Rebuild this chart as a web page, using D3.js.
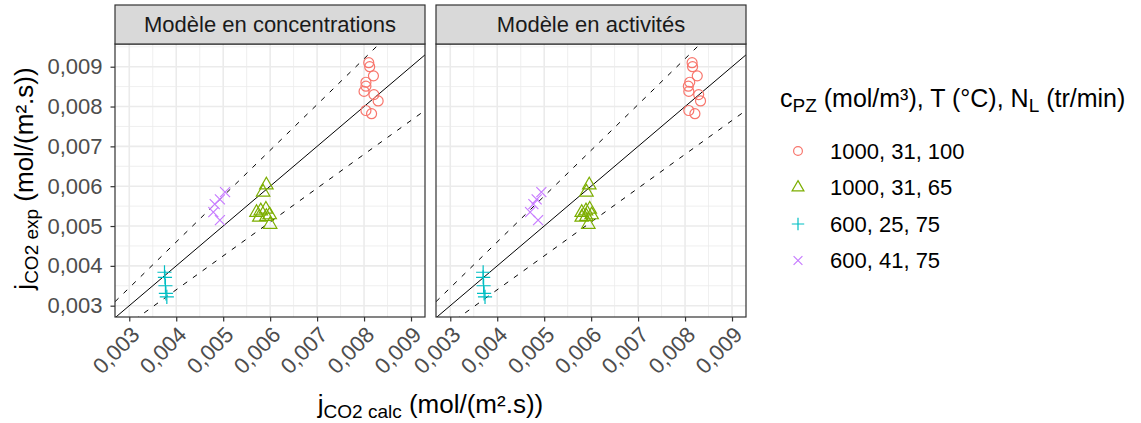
<!DOCTYPE html>
<html>
<head>
<meta charset="utf-8">
<script src="https://cdn.jsdelivr.net/npm/d3@7"></script>
<style>
body { margin: 0; background: #fff; }
text { font-family: "Liberation Sans", Arial, sans-serif; }
</style>
</head>
<body>
<svg id="main"></svg>
<script>
// facettes et groupes
var panels = ["Modèle en concentrations", "Modèle en activités"];
var groups = ["1000, 31, 100", "1000, 31, 65", "600, 25, 75", "600, 41, 75"];
var shapes = ["circle", "triangle", "plus", "cross"];
var colors = ["#F8766D", "#7CAE00", "#00BFC4", "#C77CFF"];
var ticks = [0.003, 0.004, 0.005, 0.006, 0.007, 0.008, 0.009];
var tickLabels = ["0,003", "0,004", "0,005", "0,006", "0,007", "0,008", "0,009"];

// j CO2 exp (meme valeurs dans les deux facettes)
var expG1 = [0.00910, 0.00900, 0.00877, 0.00861, 0.00851, 0.00838, 0.00830, 0.00814, 0.00790, 0.00782];
var expG2 = [0.00603, 0.00585, 0.00542, 0.00538, 0.00534, 0.00528, 0.00524, 0.00522, 0.00504];
var expG3 = [0.00384, 0.00371, 0.00350, 0.00331, 0.00322];
var expG4 = [0.00585, 0.00567, 0.00555, 0.00535, 0.00515];

// j CO2 calc, modele en concentrations
var concG1 = [0.00810, 0.00812, 0.00820, 0.00804, 0.00804, 0.00800, 0.00821, 0.00830, 0.00804, 0.00816];
var concG2 = [0.00592, 0.00585, 0.00591, 0.00580, 0.00571, 0.00599, 0.00592, 0.00577, 0.00600];
var concG3 = [0.00375, 0.00376, 0.00377, 0.00378, 0.00380];
var concG4 = [0.00504, 0.00493, 0.00482, 0.00479, 0.00493];

// j CO2 calc, modele en activites
var actG1 = [0.00815, 0.00816, 0.00826, 0.00810, 0.00807, 0.00808, 0.00829, 0.00833, 0.00808, 0.00821];
var actG2 = [0.00596, 0.00590, 0.00597, 0.00589, 0.00580, 0.00601, 0.00590, 0.00580, 0.00594];
var actG3 = [0.00370, 0.00370, 0.00371, 0.00372, 0.00374];
var actG4 = [0.00494, 0.00484, 0.00477, 0.00470, 0.00487];

var xDomain = [0.002696, 0.009298];
var yDomain = [0.002716, 0.00957];
var ratios = [1, 1.15, 0.85];

var W = 1141, H = 423;
var panelX = [115, 436], panelW = 310, panelTop = 44, panelBottom = 317, stripTop = 5;
var R = 5, RL = 4.4;

function shapePath(shape, r) {
	if (shape == "circle") return d3.arc()({innerRadius: 0, outerRadius: r, startAngle: 0, endAngle: 2 * Math.PI});
	if (shape == "triangle") {
		var t0 = 1.555 * r, t1 = 1.347 * r, t2 = 0.778 * r;
		return "M0," + (-t0) + "L" + t1 + "," + t2 + "L" + (-t1) + "," + t2 + "Z";
	}
	if (shape == "plus") {
		var a = 1.414 * r;
		return "M" + (-a) + ",0H" + a + "M0," + (-a) + "V" + a;
	}
	return "M" + (-r) + "," + (-r) + "L" + r + "," + r + "M" + (-r) + "," + r + "L" + r + "," + (-r);
}

function buildPoints(calcs) {
	var exps = [expG1, expG2, expG3, expG4];
	var pts = [];
	calcs.forEach(function(c, k) {
		c.forEach(function(v, i) { pts.push({x: v, y: exps[k][i], g: k}); });
	});
	return pts;
}

function draw() {
	var s = d3.select("#main").attr("width", W).attr("height", H);
	var data = [buildPoints([concG1, concG2, concG3, concG4]), buildPoints([actG1, actG2, actG3, actG4])];
	var y = d3.scaleLinear().domain(yDomain).range([panelBottom, panelTop]);

	var minor = [];
	for (var m = 0.0025; m < 0.0096; m += 0.001) minor.push(m);

	panels.forEach(function(name, p) {
		var x = d3.scaleLinear().domain(xDomain).range([panelX[p], panelX[p] + panelW]);
		var g = s.append("g");
		var clipId = "clip" + p;
		s.append("clipPath").attr("id", clipId).append("rect")
			.attr("x", panelX[p]).attr("y", panelTop).attr("width", panelW).attr("height", panelBottom - panelTop);

		// grille
		var grid = g.append("g").attr("clip-path", "url(#" + clipId + ")").attr("stroke", "#EBEBEB");
		grid.selectAll(".mx").data(minor.filter(function(v) { return v > xDomain[0] && v < xDomain[1]; })).enter().append("line")
			.attr("x1", function(d) { return x(d); }).attr("x2", function(d) { return x(d); })
			.attr("y1", panelTop).attr("y2", panelBottom).attr("stroke-width", 0.8);
		grid.selectAll(".my").data(minor.filter(function(v) { return v > yDomain[0] && v < yDomain[1]; })).enter().append("line")
			.attr("y1", function(d) { return y(d); }).attr("y2", function(d) { return y(d); })
			.attr("x1", panelX[p]).attr("x2", panelX[p] + panelW).attr("stroke-width", 0.8);
		grid.selectAll(".Mx").data(ticks).enter().append("line")
			.attr("x1", function(d) { return x(d); }).attr("x2", function(d) { return x(d); })
			.attr("y1", panelTop).attr("y2", panelBottom).attr("stroke-width", 1.6);
		grid.selectAll(".My").data(ticks).enter().append("line")
			.attr("y1", function(d) { return y(d); }).attr("y2", function(d) { return y(d); })
			.attr("x1", panelX[p]).attr("x2", panelX[p] + panelW).attr("stroke-width", 1.6);

		// droites y = x, +-15 %
		g.append("g").attr("clip-path", "url(#" + clipId + ")").selectAll("line").data(ratios).enter().append("line")
			.attr("x1", x(xDomain[0])).attr("y1", function(d) { return y(xDomain[0] * d); })
			.attr("x2", x(xDomain[1])).attr("y2", function(d) { return y(xDomain[1] * d); })
			.attr("stroke", "#000").attr("stroke-width", 1)
			.attr("stroke-dasharray", function(d) { return d == 1 ? null : "5,7"; });

		// points
		g.append("g").selectAll("path").data(data[p]).enter().append("path")
			.attr("transform", function(d) { return "translate(" + x(d.x) + "," + y(d.y) + ")"; })
			.attr("d", function(d) { return shapePath(shapes[d.g], R); })
			.attr("fill", "none").attr("stroke", function(d) { return colors[d.g]; }).attr("stroke-width", 1.2);

		// cadre + bandeau
		g.append("rect").attr("x", panelX[p]).attr("y", panelTop).attr("width", panelW).attr("height", panelBottom - panelTop)
			.attr("fill", "none").attr("stroke", "#333333").attr("stroke-width", 1.2);
		g.append("rect").attr("x", panelX[p]).attr("y", stripTop).attr("width", panelW).attr("height", panelTop - stripTop)
			.attr("fill", "#D9D9D9").attr("stroke", "#333333").attr("stroke-width", 1.2);
		g.append("text").attr("x", panelX[p] + panelW / 2).attr("y", (stripTop + panelTop) / 2).attr("dy", "0.36em")
			.attr("text-anchor", "middle").attr("font-size", 22).attr("fill", "#1A1A1A").text(name);

		// axe x
		var ax = g.append("g").attr("transform", "translate(0," + panelBottom + ")")
			.call(d3.axisBottom(x).tickValues(ticks).tickSize(4.5).tickFormat(function(d, i) { return tickLabels[i]; }));
		ax.select(".domain").remove();
		ax.selectAll("line").attr("stroke", "#333333").attr("stroke-width", 1.2);
		ax.selectAll("text").attr("font-size", 22).attr("fill", "#4D4D4D")
			.attr("text-anchor", "end").attr("y", 0).attr("dy", "0.72em")
			.attr("transform", "translate(0,8) rotate(-45)");
	});

	// axe y
	var ay = s.append("g").attr("transform", "translate(" + panelX[0] + ",0)")
		.call(d3.axisLeft(y).tickValues(ticks).tickSize(4.5).tickPadding(8).tickFormat(function(d, i) { return tickLabels[i]; }));
	ay.select(".domain").remove();
	ay.selectAll("line").attr("stroke", "#333333").attr("stroke-width", 1.2);
	ay.selectAll("text").attr("font-size", 22).attr("fill", "#4D4D4D");

	// titres des axes
	var xt = s.append("text").attr("x", (panelX[0] + panelX[1] + panelW) / 2).attr("y", 413)
		.attr("text-anchor", "middle").attr("font-size", 26).attr("fill", "#000");
	xt.append("tspan").text("j");
	xt.append("tspan").attr("font-size", 19).attr("dy", 5).text("CO2 calc");
	xt.append("tspan").attr("dy", -5).text(" (mol/(m².s))");

	var yt = s.append("text").attr("transform", "translate(33," + ((panelTop + panelBottom) / 2 - 2) + ") rotate(-90)")
		.attr("text-anchor", "middle").attr("font-size", 26).attr("fill", "#000");
	yt.append("tspan").text("j");
	yt.append("tspan").attr("font-size", 19).attr("dy", 5).text("CO2 exp");
	yt.append("tspan").attr("dy", -5).text(" (mol/(m².s))");

	// legende
	var lt = s.append("text").attr("x", 780).attr("y", 107).attr("font-size", 25).attr("fill", "#000");
	lt.append("tspan").text("c");
	lt.append("tspan").attr("font-size", 19).attr("dy", 5).text("PZ");
	lt.append("tspan").attr("dy", -5).text(" (mol/m³), T (°C), N");
	lt.append("tspan").attr("font-size", 19).attr("dy", 5).text("L");
	lt.append("tspan").attr("dy", -5).text(" (tr/min)");

	var lg = s.append("g").selectAll("g").data(groups).enter().append("g")
		.attr("transform", function(d, i) { return "translate(798," + (151 + i * 36.5) + ")"; });
	lg.append("path").attr("d", function(d, i) { return shapePath(shapes[i], RL); })
		.attr("fill", "none").attr("stroke", function(d, i) { return colors[i]; }).attr("stroke-width", 1.2);
	lg.append("text").attr("x", 32).attr("dy", "0.36em").attr("font-size", 22).attr("fill", "#000").text(function(d) { return d; });
}

draw();
</script>
</body>
</html>
